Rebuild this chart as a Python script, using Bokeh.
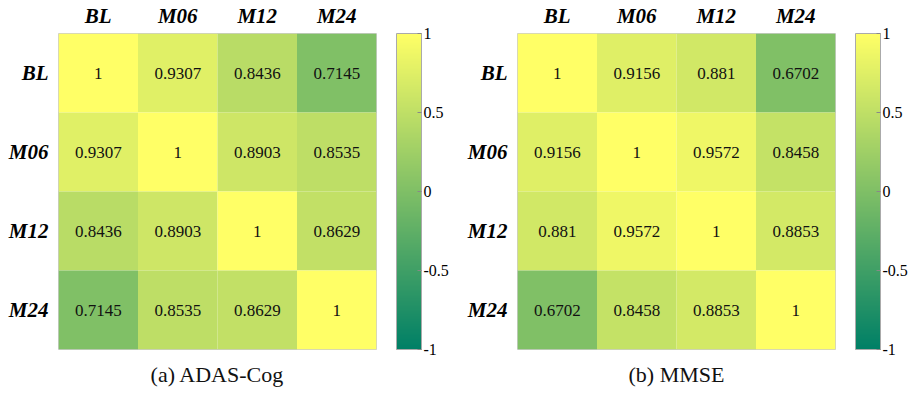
from bokeh.plotting import figure
from bokeh.models import ColumnDataSource, LinearColorMapper, ColorBar, FixedTicker, Title
from bokeh.layouts import row
from bokeh.transform import transform
from bokeh.embed import file_html
from bokeh.resources import INLINE
from bokeh.core.properties import value

# ---- data ----
visits = ["BL", "M06", "M12", "M24"]
adas_cog = [
    [1, 0.9307, 0.8436, 0.7145],
    [0.9307, 1, 0.8903, 0.8535],
    [0.8436, 0.8903, 1, 0.8629],
    [0.7145, 0.8535, 0.8629, 1],
]
mmse = [
    [1, 0.9156, 0.881, 0.6702],
    [0.9156, 1, 0.9572, 0.8458],
    [0.881, 0.9572, 1, 0.8853],
    [0.6702, 0.8458, 0.8853, 1],
]
panel_titles = ["(a) ADAS-Cog", "(b) MMSE"]
cbar_ticks = [-1, -0.5, 0, 0.5, 1]
cbar_labels = ["-1", "-0.5", "0", "0.5", "1"]

# MATLAB-like "summer" colormap
N = 256
summer = []
for i in range(N):
    t = i / (N - 1)
    r = int(round(255 * t))
    g = int(round(255 * (0.5 + 0.5 * t)))
    b = int(round(255 * 0.4))
    summer.append("#%02x%02x%02x" % (r, g, b))

FONT = "'Liberation Serif'"


def make_panel(mat, title, left_border, right_border):
    xs, ys, vs, labels = [], [], [], []
    for i, rname in enumerate(visits):
        for j, cname in enumerate(visits):
            xs.append(cname)
            ys.append(rname)
            vs.append(mat[i][j])
            labels.append(f"{mat[i][j]:g}")
    src = ColumnDataSource(dict(x=xs, y=ys, v=vs, label=labels))
    vmin = min(vs)
    cell_mapper = LinearColorMapper(palette=summer, low=2 * vmin - 1, high=1)
    bar_mapper = LinearColorMapper(palette=summer, low=-1, high=1)

    p = figure(
        x_range=visits, y_range=list(reversed(visits)),
        frame_width=318, frame_height=316,
        min_border_left=left_border, min_border_right=right_border,
        min_border_top=24, min_border_bottom=46,
        x_axis_location="above",
        output_backend="svg", toolbar_location=None,
    )
    p.rect("x", "y", width=1, height=1, source=src,
           fill_color=transform("v", cell_mapper), line_color=None)
    p.text("x", "y", text="label", source=src, text_align="center",
           text_baseline="middle", text_font=value(FONT),
           text_font_size="17px", text_color="#111111")

    p.grid.visible = False
    p.outline_line_color = "#cccccc"
    for ax in (p.xaxis[0], p.yaxis[0]):
        ax.axis_line_color = None
        ax.major_tick_line_color = None
        ax.minor_tick_line_color = None
        ax.major_label_text_font = FONT
        ax.major_label_text_font_style = "bold italic"
        ax.major_label_text_font_size = "21px"
        ax.major_label_text_color = "black"
        ax.major_label_standoff = 0
    p.yaxis.major_label_standoff = 4

    cb = ColorBar(
        color_mapper=bar_mapper, width=25, height=316, padding=0, margin=0,
        location=(338, 0),
        ticker=FixedTicker(ticks=cbar_ticks),
        major_label_overrides={t: l for t, l in zip(cbar_ticks, cbar_labels)},
        major_label_text_font=FONT, major_label_text_font_size="16px",
        major_label_text_color="black",
        major_tick_in=4, major_tick_out=0, major_tick_line_color="#888888",
        bar_line_color="#aaaaaa", label_standoff=2,
        border_line_color=None, background_fill_alpha=0,
    )
    p.add_layout(cb, "center")

    t = Title(text=title, align="center", text_font=FONT,
              text_font_size="22px", text_font_style="normal",
              text_color="#111111", offset=0, standoff=21)
    p.add_layout(t, "below")
    return p


p1 = make_panel(adas_cog, panel_titles[0], 58, 78)
p2 = make_panel(mmse, panel_titles[1], 63, 76)
layout = row(p1, p2)

open("out.html", "w").write(file_html(layout, INLINE))
